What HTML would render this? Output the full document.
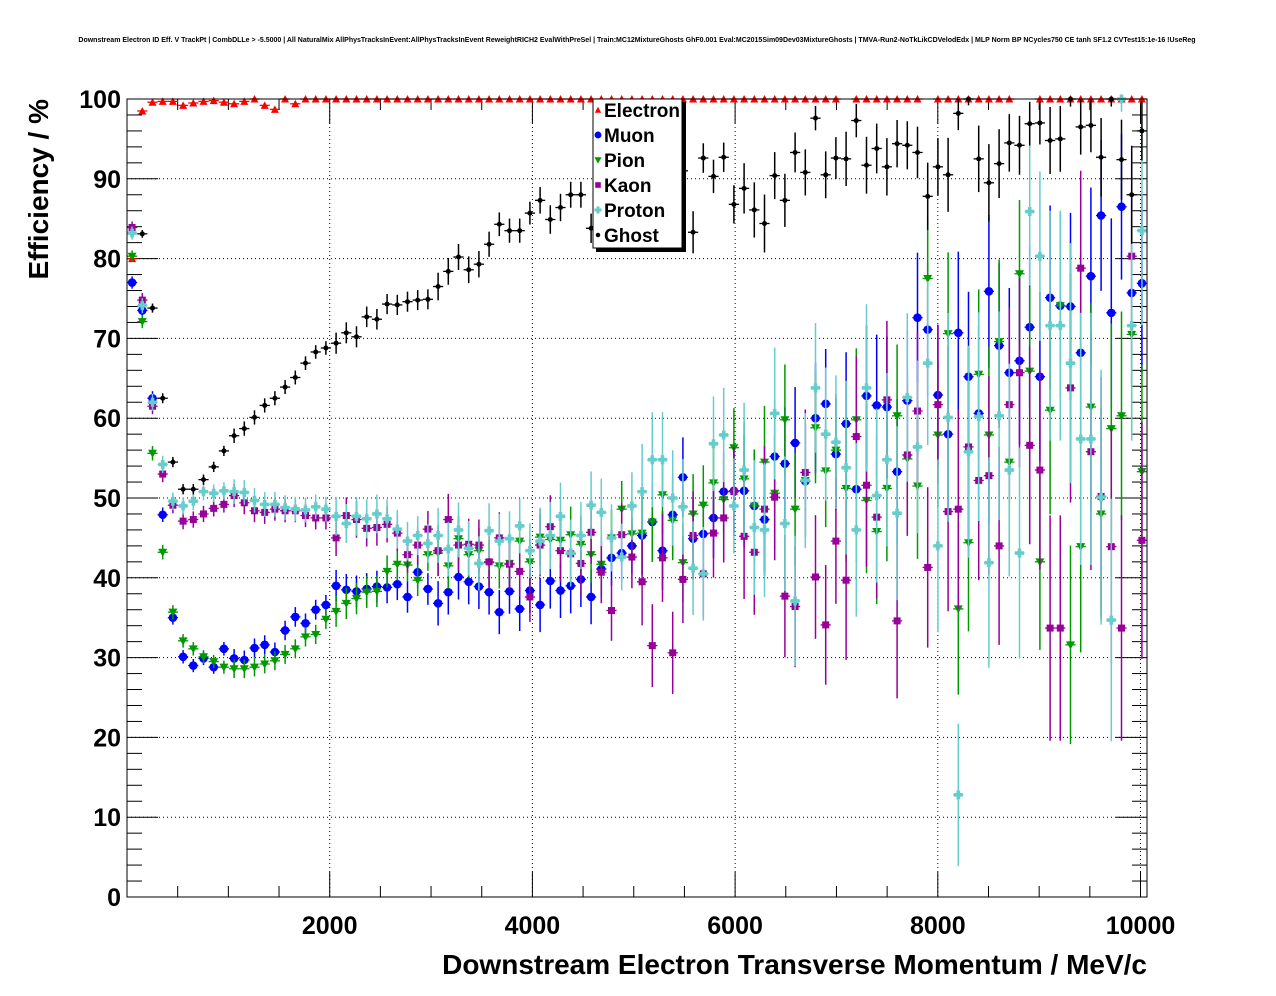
<!DOCTYPE html>
<html><head><meta charset="utf-8"><style>
html,body{margin:0;padding:0;background:#fff;}
svg{display:block;font-family:"Liberation Sans",sans-serif;}
</style></head><body>
<svg id="chart" width="1276" height="996" viewBox="0 0 1276 996" xmlns="http://www.w3.org/2000/svg">
<rect x="0" y="0" width="1276" height="996" fill="#fff"/>
<text x="637" y="42" font-size="7" font-weight="bold" text-anchor="middle">Downstream Electron ID Eff. V TrackPt | CombDLLe &gt; -5.5000 | All NaturalMix AllPhysTracksInEvent:AllPhysTracksInEvent ReweightRICH2 EvalWithPreSel | Train:MC12MixtureGhosts GhF0.001 Eval:MC2015Sim09Dev03MixtureGhosts | TMVA-Run2-NoTkLikCDVelodEdx | MLP Norm BP NCycles750 CE tanh SF1.2 CVTest15:1e-16 !UseReg</text>
<g id="grid"></g>
<g id="axes"></g>
<g id="series"></g>
<rect x="127" y="99" width="1020" height="798" fill="none" stroke="#000" stroke-width="1"/>
<text x="1147" y="974" font-size="28" font-weight="bold" text-anchor="end">Downstream Electron Transverse Momentum / MeV/c</text>
<text transform="translate(48,99) rotate(-90)" font-size="28" font-weight="bold" text-anchor="end">Efficiency / %</text>
<g>
<rect x="596" y="102" width="90" height="150" fill="#000"/>
<rect x="593" y="99" width="89" height="149" fill="#fff" stroke="#000" stroke-width="1"/>
<g id="legend-entries"></g>
</g>
</svg>
<script>
const binWidth = 100.64;
const xMax = 10064;
const categories = [];
for (let i = 0; i < 100; i++) categories.push(binWidth * (i + 0.5));
const xTicks = [2000, 4000, 6000, 8000, 10000];
const yTicks = [0, 10, 20, 30, 40, 50, 60, 70, 80, 90, 100];

const electron = [80,98.5,99.6,99.7,99.7,99.2,99.5,99.7,99.8,99.6,99.4,99.7,100,99.2,98.7,100,99.4,100,100,100,
100,100,100,100,100,100,100,100,100,100,100,100,100,100,100,100,100,100,100,100,
100,100,100,100,100,100,100,100,100,100,100,100,100,100,100,100,100,100,100,100,
100,100,100,100,100,100,100,100,100,100,null,100,100,100,100,100,100,100,null,100,
100,100,100,100,100,100,100,null,null,100,100,100,100,100,100,100,100,100,100,100];
const muon = [77,73.5,62.5,47.9,35,30.1,29,29.9,28.8,31.1,29.9,29.7,31.2,31.6,30.7,33.4,35.1,34.3,36,36.6,
39,38.5,38.3,38.6,38.9,38.8,39.2,37.6,40.7,38.6,36.8,38.2,40.1,39.5,38.9,38.2,35.7,38.3,36.1,38.4,
36.6,39.6,38.4,39,39.8,37.6,41.1,42.5,43.1,44,45.3,47,43.4,47.9,52.6,44.9,45.5,47.5,50.8,50.9,
50.9,49,47.3,55.2,54.3,56.9,52.1,60,61.8,55.5,59.3,51.1,62.8,61.6,61.4,53.3,62.2,72.6,71.1,62.9,
58,70.7,65.2,60.6,75.9,69.1,65.7,67.2,71.4,65.2,75.1,74.1,74,68.2,77.8,85.4,73.2,86.5,75.7,76.9];
const pion = [80.3,72.1,55.6,43.2,35.7,32.1,31.1,30.1,29.5,28.8,28.6,28.6,28.8,29.2,29.6,30.4,31.1,32.6,32.9,34.8,
35.8,36.8,37.4,38.2,38.3,40.8,41.7,41.6,39.7,42.9,43.1,41.5,44.9,42.9,43.4,41.9,41.5,41.8,44.6,42,
45.1,44.8,44.7,45.4,44.2,42.9,41.7,45,48.6,45.5,45.6,47,50.4,47.2,41.9,48,49.1,51.9,49.8,56.3,
52.4,49,54.5,50.6,59.8,48.6,52.2,58.8,53.4,56,51.2,59.8,49.7,45.8,51.2,60.3,54.9,51.5,77.5,57.9,
70.6,36.1,44.4,65.5,57.9,69.6,54.5,78.1,65.9,42,61,74.1,31.6,43.9,61.4,48,58.7,60.3,70.5,53.3];
const kaon = [83.9,74.8,61.5,53,49.1,47.1,47.3,48,48.7,49.2,50.3,49.4,48.4,48.2,48.6,48.4,48.4,47.8,47.5,47.5,
45,47.8,47.3,46.2,46.3,46.7,45.6,42.9,44.1,46.1,43.4,47.3,44.1,44.2,44.1,42,45,41.7,40.8,37.6,
44.1,46.4,43.4,43,41.8,45.7,40.7,35.9,45.4,42.6,39.5,31.5,42.5,30.6,39.8,45.3,40.5,45.6,47.5,50.8,
45.2,43.2,48.6,50.1,37.7,36.4,53.2,40.1,34.1,44.6,39.7,57.7,51.6,47.6,62.3,34.6,55.4,60.9,41.3,61.7,
48.3,48.6,56.4,52.2,52.8,44,61.7,65.7,56.6,53.5,33.7,33.7,63.8,78.8,55.8,50.2,43.9,33.7,80.3,44.7];
const proton = [83.2,74.1,62,54.2,49.6,49,49.6,50.8,50.6,50.9,50.8,50.7,49.7,49.2,49.2,48.8,48.6,48.5,48.9,48.6,
47.7,46.8,47.7,47.4,48,47.4,46.1,44.6,45.3,44.3,45.3,43.6,46,43.7,41.8,45.9,44.6,44.9,46.5,43.4,
44.6,45.3,47.7,43.1,45.3,49.1,48.2,45,42.6,49,50.8,54.8,54.8,50,48.9,41.2,40.5,56.8,57.9,49,
53.5,46.3,46,60.6,46.8,37.1,52.2,63.8,58,57,53.8,46,63.8,50.3,54.8,48.1,62.6,56.4,66.9,44,
60.1,12.8,55.8,60.2,41.9,60.3,53.5,43.1,85.9,80.3,71.6,71.6,66.9,57.4,57.4,50.1,34.7,100,71.6,83.5];
const ghost = [null,83.1,73.8,62.5,54.5,51.1,51.1,52.3,53.9,55.9,57.8,58.7,60.1,61.6,62.5,63.9,65.1,66.9,68.3,68.8,
69.4,70.7,70.2,72.7,72.4,74.3,74.2,74.6,74.8,74.9,76.5,78.4,80.2,78.6,79.3,81.8,84.3,83.5,83.5,85.7,
87.3,84.9,86.4,88,88,83.8,88,90,89,91,90,89,92,90,91,83.3,92.6,90.3,92.7,86.8,
88.8,86.1,84.4,90.4,87.3,93.3,90.8,97.6,90.5,92.6,92.5,97.3,91.7,93.8,91.5,94.4,94.2,93.3,87.8,91.5,
90.5,98.2,100,92.5,89.5,91.9,94.5,94.2,96.9,97,94.8,95,100,96.5,96.7,92.7,100,92.4,88,96];
// effective statistics per 1 GeV block (used for error bars)
const nEff = [3000,1500,600,300,200,100,50,30,20,14];

const seriesList = [
 {name:'Electron', data:electron, color:'#ff0000', marker:'tri-up', n:60},
 {name:'Muon', data:muon, color:'#0000ff', marker:'circle', n:1},
 {name:'Pion', data:pion, color:'#009900', marker:'tri-down', n:1},
 {name:'Kaon', data:kaon, color:'#990099', marker:'square', n:0.8},
 {name:'Proton', data:proton, color:'#66cccc', marker:'cross', n:0.7},
 {name:'Ghost', data:ghost, color:'#000000', marker:'dot', n:2}
];

const NS = 'http://www.w3.org/2000/svg';
const X0 = 127, X1 = 1147, Y0 = 897, Y1 = 99;
function xScale(v){ return X0 + (v/xMax)*(X1-X0); }
function yScale(v){ return Y0 - (v/100)*(Y0-Y1); }
function mk(tag, attrs, parent){
  const e = document.createElementNS(NS, tag);
  for (const k in attrs) e.setAttribute(k, attrs[k]);
  parent.appendChild(e); return e;
}
const grid = document.getElementById('grid');
const axes = document.getElementById('axes');
const seriesG = document.getElementById('series');

xTicks.forEach(t => {
  const l = mk('line', {x1:xScale(t), x2:xScale(t), y1:Y1, y2:Y0, stroke:'#000', 'stroke-width':1, 'stroke-dasharray':'1,3'}, grid);
  
  
});
yTicks.forEach(t => {
  if (t <= 0 || t >= 100) return;
  const l = mk('line', {x1:X0, x2:X1, y1:yScale(t), y2:yScale(t), stroke:'#000', 'stroke-width':1, 'stroke-dasharray':'1,3'}, grid);
  
  
});
for (let v = 0; v <= 100; v += 2) {
  const major = v % 10 === 0;
  const len = major ? 31 : 15;
  const y = yScale(v);
  const a = mk('line', {x1:X0, x2:X0+len, y1:y, y2:y, stroke:'#000', 'stroke-width':1}, axes);
  
  
  const b = mk('line', {x1:X1, x2:X1-len, y1:y, y2:y, stroke:'#000', 'stroke-width':1}, axes);
  
  
}
yTicks.forEach(t => {
  const tx = mk('text', {x:121, y:yScale(t)+9, 'font-size':25, 'font-weight':'bold', 'text-anchor':'end'}, axes);
  tx.textContent = String(t);
  
  
});
for (let v = 500; v <= 10000; v += 500) {
  const major = v % 2000 === 0;
  const len = major ? 25 : 11;
  const x = xScale(v);
  const a = mk('line', {x1:x, x2:x, y1:Y0, y2:Y0-len, stroke:'#000', 'stroke-width':1}, axes);
  
  
  const b = mk('line', {x1:x, x2:x, y1:Y1, y2:Y1+len, stroke:'#000', 'stroke-width':1}, axes);
  
  
}
xTicks.forEach(t => {
  const tx = mk('text', {x:xScale(t), y:934, 'font-size':25, 'font-weight':'bold', 'text-anchor':'middle'}, axes);
  tx.textContent = String(t);
  
  
});

function drawMarker(type, cx, cy, color, parent, s){
  s = s || 1;
  let e;
  if (type === 'tri-up') e = mk('polygon', {points:`${cx-4*s},${cy+3.5*s} ${cx+4*s},${cy+3.5*s} ${cx},${cy-4*s}`, fill:color}, parent);
  else if (type === 'tri-down') e = mk('polygon', {points:`${cx-4.5*s},${cy-3.5*s} ${cx+4.5*s},${cy-3.5*s} ${cx},${cy+4.5*s}`, fill:color}, parent);
  else if (type === 'circle') e = mk('circle', {cx:cx, cy:cy, r:4.3*s, fill:color}, parent);
  else if (type === 'square') e = mk('rect', {x:cx-3.5*s, y:cy-3.5*s, width:7*s, height:7*s, fill:color}, parent);
  else if (type === 'cross') e = mk('path', {d:`M${cx-4.5*s},${cy-1.8*s}h${2.7*s}v${-2.7*s}h${3.6*s}v${2.7*s}h${2.7*s}v${3.6*s}h${-2.7*s}v${2.7*s}h${-3.6*s}v${-2.7*s}h${-2.7*s}z`, fill:color}, parent);
  else e = mk('circle', {cx:cx, cy:cy, r:2.5*s, fill:color}, parent);
  return e;
}

seriesList.forEach(s => {
  const g = mk('g', {}, seriesG);
  
  
  s.data.forEach((v, i) => {
    if (v === null || v === undefined) return;
    const c = categories[i];
    const n = nEff[Math.floor(i/10)] * s.n;
    const err = Math.sqrt(Math.max(v*(100-v), 25) / n);
    const cx = xScale(c), cy = yScale(v);
    const h = mk('line', {x1:xScale(c-binWidth/2), x2:xScale(c+binWidth/2), y1:cy, y2:cy, stroke:s.color, 'stroke-width':1.3}, g);
    
    
    const top = Math.min(100, v + err), bot = Math.max(0, v - err);
    const vl = mk('line', {x1:cx, x2:cx, y1:yScale(top), y2:yScale(bot), stroke:s.color, 'stroke-width':1.5}, g);
    
    
    const m = drawMarker(s.marker, cx, cy, s.color, g, 1);
    
    
  });
});

const lg = document.getElementById('legend-entries');
seriesList.forEach((s, k) => {
  const y = 110 + k * 25;
  const g = mk('g', {}, lg);
  
  
  drawMarker(s.marker, 598, y, s.color, g, s.marker === 'dot' ? 0.9 : 0.8);
  const t = mk('text', {x:604, y:y+7, 'font-size':19, 'font-weight':'bold'}, g);
  t.textContent = s.name;
});
</script>
</body></html>
